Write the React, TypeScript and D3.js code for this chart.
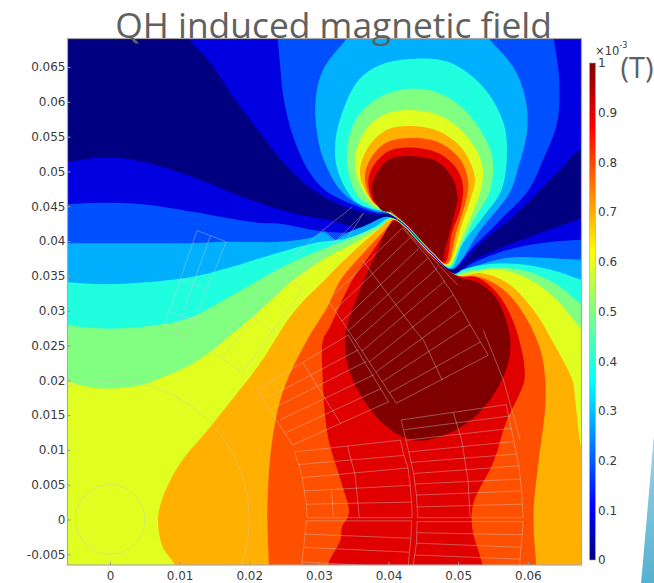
import React, { useEffect, useRef } from "react";
import * as d3 from "d3";

type Pt = [number, number];

// contour outlines, all in mm (x, y)
const bandColors = ["#000080", "#0000e0", "#0050ff", "#00b0ff", "#1fffe0", "#80ff80", "#e0ff20", "#ffb000", "#ff5000", "#e00000", "#800000"];

// band above the pole line: from the left tip, over the top, to the right tip
const upperLobes: Pt[][] = [
  [[40.1,43.9],[38.4,43.8],[34.1,44.8],[29.2,47.3],[25.4,50.7],[21.6,55.5],[17.7,60.7],[14.4,65.6],[11.2,69.2],[8.6,73.2],[71.9,73.2],[71.9,55],[67.8,53.4],[64.2,49.8],[60.4,45.9],[57.9,43.5],[53.2,39.7],[49.1,35.9]],
  [[40,43.9],[38.4,44],[34.9,45.2],[30.9,47.3],[28.7,49.8],[26.3,55],[24.9,60.7],[24.4,65.6],[24.1,69.2],[24,73.2],[63.2,73.2],[63.7,69.2],[64.5,63.2],[64.2,57],[62.2,51.7],[60.1,47.3],[56,43],[51.7,38.7],[49.1,35.9]],
  [[40,44],[38.5,44.2],[35.6,45.3],[33.1,47.3],[31,50.9],[29.9,54.5],[29.5,59.9],[30.6,64.6],[34.1,69.2],[37.4,73.2],[51,73.2],[54.3,69.2],[57.9,65],[59.6,60.7],[59.9,56],[58.6,50.5],[57.4,47],[53.2,41.6],[49,36]],
  [[40,44],[37.7,44.6],[35.5,45.5],[33.8,47.6],[32.6,50.5],[32.3,53.1],[32.8,56.7],[35.5,62.9],[38.8,65.3],[43.8,66.2],[48.9,65.6],[53.6,62.1],[56.5,57],[57,52.7],[56.2,47.3],[53.6,43.5],[50.7,39.7],[48.9,36.1]],
  [[40.1,44],[37.6,44.9],[35.5,46.6],[34.2,50.2],[34.1,53.8],[35.5,57.8],[38.8,60.7],[43.8,61.9],[48.4,60.7],[52.2,57.4],[54.6,53.1],[55,51],[54.6,47.3],[52.2,43],[50,38.7],[48.7,36.3]],
  [[40.2,44.1],[37.9,45.2],[35.6,48.8],[35.2,52.1],[36.4,55.5],[39.2,58.1],[43.8,58.8],[47.9,57.8],[51.7,54.5],[53.5,50.7],[53.3,47.5],[52.2,44.4],[50.7,40.9],[48.6,36.4]],
  [[40.2,44.1],[38,45.3],[36.4,47.8],[35.9,50.2],[37.1,53.5],[39.8,56],[43.8,56.5],[47.4,55.7],[50.7,53.1],[52.4,49],[51.9,46.5],[50.4,42],[48.4,36.6]],
  [[40.3,44.1],[37.8,45.6],[36.6,49.2],[37.6,52.1],[39.8,54.2],[43.8,54.8],[47.4,54.1],[50.3,51.7],[51.4,48.8],[51.2,46.2],[49.8,41.6],[48.3,36.7]],
  [[40.4,44.1],[37.9,45.6],[37.1,48.8],[38.1,51.2],[40.2,53],[43.8,53.4],[47.4,52.5],[49.9,50.2],[50.7,47.8],[50.3,44.5],[49.1,41.2],[48.1,36.9]],
  [[40.5,44.1],[39.2,44.3],[38.1,45.6],[37.6,47.8],[38.4,49.9],[40.2,51.8],[43.8,52.2],[47,51.4],[49.3,48.8],[49.9,45.9],[49.6,44.5],[48.6,40.6],[48,38.3],[47.9,37.1]],
];

// band below the pole line, left part: bottom up to the left tip
const lowerLeft: Pt[][] = [
  [[-10.1,-11.6],[-10.1,51.4],[-6.2,51.4],[-1,52],[4.7,51.4],[11.9,49.2],[19.1,46.3],[26.3,44],[31.6,43],[35.9,41.9],[38.8,42.7],[40,43.5]],
  [[-10.1,-11.6],[-10.1,45],[-6.2,45.3],[-1,45.5],[4.7,45.3],[11.9,44.2],[16.8,43.3],[21.6,42.6],[24.4,42.5],[29.2,41.6],[31.6,41.3],[34.5,41.3],[37.4,42.6],[39.8,43.5]],
  [[-10.1,-11.6],[-10.1,39.7],[-6.2,39.7],[0,39.7],[11.5,39.7],[16.8,39.9],[24.4,39.9],[29.2,40.6],[30.6,41.3],[32.3,40.2],[34.1,41.2],[36.9,42.3],[39.8,43.5]],
  [[-10.1,-11.6],[-10.1,34.3],[-6.2,34.1],[0,33.8],[11.5,34.8],[16.8,36.1],[24.4,38.4],[29.2,39.7],[34.1,40.4],[37.8,41.9],[40.2,43.3]],
  [[-10.1,-11.6],[-10.1,28.4],[-6.2,27.9],[0,27.4],[7.2,28],[11.5,29],[16.8,31.8],[24.4,36.1],[29.2,38.3],[34.1,40.2],[38.8,42.3],[40.4,43.3]],
  [[-10.1,-11.6],[-10.1,21.2],[-6.2,19.9],[-2.9,19],[0,18.8],[4.3,19.3],[7.2,20.3],[11.5,22.2],[14.4,24.1],[21.6,30.1],[26.3,34.4],[31.2,37.7],[34.1,39.2],[38.8,42],[40.4,43.2]],
  [[11.5,-11.6],[9.3,-6.5],[7.6,-4],[6.9,-0.1],[7.6,3.2],[10.1,8.1],[14.4,13.3],[17.5,17.2],[21.6,22.5],[26.3,29.7],[31.2,34.8],[34.1,37.7],[38.8,41.9],[40.5,43.2]],
  [[22.8,-11.6],[22.8,-6.5],[22.6,1.8],[23.3,11.4],[24.9,18.6],[28.3,25.8],[31.2,30.5],[33.1,34.4],[36.4,38.3],[39.8,42],[40.6,43]],
  [[30.9,-11.6],[31.3,-6.5],[33.1,-2.9],[33.3,-1.1],[34.3,0.9],[33.1,5.7],[31.3,11.9],[30.5,21.1],[30.6,25.8],[31.6,27.7],[34.8,34.4],[37.8,38.7],[40.2,42.3],[40.7,43]],
  [[43.5,11.4],[39.8,13.3],[36.4,17.2],[34.2,21.9],[33.8,26.5],[35.9,33],[37.8,37.3],[40.7,42.8]],
];

// same band, right part: from the right tip out to the edge and down
const lowerRight: Pt[][] = [
  [[49.3,35.4],[51.7,37],[56,39],[61.8,41.2],[67.8,43.3],[73.3,45.3],[73.3,-11.6]],
  [[49.3,35.4],[52.2,36.9],[57,38.7],[61.8,39.7],[67.8,40.2],[73.3,40.3],[73.3,-11.6]],
  [[49.3,35.3],[52.2,36.3],[57,37.6],[61.8,37.6],[67.8,37.3],[73.3,37],[73.3,-11.6]],
  [[49.3,35.2],[50.7,35.9],[53.6,36.6],[58.5,36.7],[63.2,35.9],[67.8,34.4],[73.3,32.7],[73.3,-11.6]],
  [[49.4,35.1],[50.7,35.6],[54.2,36.1],[58.9,35.9],[63.7,34],[67.8,30.8],[73.3,26.5],[73.3,-11.6]],
  [[49.6,35.1],[51.3,35.4],[56,35.9],[60.4,34.4],[64.2,31.5],[67.8,27.2],[73.3,21.5],[73.3,-11.6]],
  [[49.7,35.1],[53.2,35.4],[57,34],[60.8,30.1],[64.2,24.4],[66.4,20],[66.8,17.2],[67.4,11.9],[67.7,10.4],[71.9,4.2],[71.9,-11.6]],
  [[49.7,35],[53.2,34.8],[56.5,33],[59.3,29.7],[61.8,24.4],[62.5,20],[62.5,16.2],[61.5,8.1],[60.8,0.9],[61.2,-6.5],[61.8,-11.6]],
  [[49.9,35],[52.7,34.8],[55.6,32.5],[57.8,28.7],[59.3,23.4],[59.5,20],[58.6,17.6],[57,14.3],[55,8.1],[52.2,2.4],[52,-1.1],[53.5,-6.5],[54.6,-11.6]],
  [[50,34.8],[52.7,34.1],[55.3,32],[57,28.2],[57.5,25.4],[57,21.9],[54.6,17.2],[51.3,13.9],[47.4,11.9]],
];

// thin low-field slit between the two lobes
const slitLine: Pt[] = [[42.2,42.4],[44.1,40.4],[46.4,38]];

// winding outlines (grey lines over the field)
const coilLines: Pt[][] = [
  // lower right, above midplane
  [[44.2,0.26],[59.3,0.26]],[[44.1,1.8],[59.2,2.2]],[[44,3.5],[59.1,4.1]],[[43.8,5.1],[58.9,5.8]],[[43.6,6.6],[58.7,7.7]],
  [[43.2,8.2],[58.4,9.4]],[[42.9,9.7],[58,11.2]],[[42.6,11.4],[57.7,13.1]],[[42.3,12.9],[57.6,14.9]],[[41.8,14.3],[56.9,16.5]],
  [[56.9,16.5],[58,11.2],[58.7,7.7],[59.1,4.1],[59.3,0.26]],
  [[41.8,14.3],[42.9,9.7],[43.6,6.6],[44,3.5],[44.2,0.26]],
  [[49.3,15.35],[50.5,11.4],[51.4,5.7],[51.7,0.4]],
  // lower right, below midplane
  [[44.1,-0.3],[59.3,-0.3]],[[44.1,-1.9],[59.2,-2.2]],[[44,-3.4],[59,-4]],[[43.7,-5.1],[58.9,-5.7]],
  [[59.3,-0.3],[59.2,-2.2],[59,-4],[58.8,-6.8]],
  [[44.1,-0.3],[44,-3.4],[43.5,-6.8]],
  // lower left, above midplane
  [[26.5,9.7],[41.7,11.4]],[[27.1,7.9],[42.2,9.2]],[[27.6,6],[42.8,7.4]],[[27.9,4.1],[43.1,4.9]],[[28.2,2.2],[43.3,2.5]],[[28.3,0.26],[43.4,0.26]],
  [[26.5,9.7],[27.1,7.9],[27.6,6],[27.9,4.1],[28.2,2.2],[28.3,0.26]],
  [[41.7,11.4],[42.2,9.2],[42.8,7.4],[43.1,4.9],[43.3,2.5],[43.4,0.26]],
  [[34.1,10.5],[35.2,6.4],[35.8,0.26]],
  [[31.8,4.2],[32.1,0.26]],
  // lower left, below midplane
  [[28.2,-0.2],[43.3,-0.2]],[[28,-2.1],[43.2,-2.7]],[[27.8,-4],[43,-4.7]],[[27.5,-6.1],[36.9,-6.6]],
  [[43.3,-0.2],[43.2,-2.7],[43,-4.7],[42.8,-6.8]],
  [[28.2,-0.2],[28,-2.1],[27.8,-4],[27.5,-6.8]],
  // tilted block
  [[26.2,10.7],[40,16.9]],[[25.3,12.5],[38.9,18.8]],[[24.4,14.3],[37.9,20.8]],[[23.5,16],[36.8,22.7]],[[22.5,17.4],[35.7,24.4]],[[21.1,18.6],[34.2,26.5]],
  [[26.2,10.7],[21.1,18.6]],[[40,16.9],[34.2,26.5]],[[27.7,22.5],[33.1,13.8]],
  // main block under the pole
  [[41.1,16.7],[36.2,24.2],[31.3,31.5]],
  [[31.3,31.5],[42,41.9]],[[32.3,30.1],[43.1,40.5]],[[33.3,28.5],[44.4,39]],[[34.2,27.1],[45.7,37.6]],[[35.2,25.7],[47,36.1]],
  [[36.2,24.2],[48.1,34.3]],[[37.2,22.6],[49.3,32.3]],[[38.2,21.2],[50.4,30.1]],[[39.1,19.8],[51.7,28]],[[40.1,18.2],[53.2,25.5]],[[41.1,16.7],[54.3,23.6]],
  [[42,41.9],[45.7,37.6],[49.3,32.3],[51.7,28],[54.3,23.6]],
  [[36.2,37.3],[39.8,32.5],[43.8,27.2],[45,25.8],[47.7,20]],
  [[40.2,44.5],[42.7,41.3],[49.9,33.7]],
  [[53.6,27.2],[56.5,20],[58.9,11.4]],
  // upper left blocks
  [[14.7,24.1],[19,21.1],[27.7,33],[23.7,36.1],[14.7,24.1]],
  [[19.1,30.1],[23.7,26.8]],[[16.1,23.4],[25.6,35.1]],
  [[7.6,27.2],[11.1,26.1],[16.7,39.9],[12.5,41.5],[7.6,27.2]],
  [[14.4,40.7],[9.3,26.5]],[[10.2,34.4],[13.7,33.1]],[[8.6,29.8],[12.2,28.7]],
  [[24.9,36.4],[30.6,41.6],[33.3,39.2],[36.4,44]],[[30.6,41.6],[34.8,44.9]],[[26.9,34.4],[36.4,44]],
];
const boreRadii = [5, 20];

const xTicks = [0, 0.01, 0.02, 0.03, 0.04, 0.05, 0.06];
const yTicks = [-0.005, 0, 0.005, 0.01, 0.015, 0.02, 0.025, 0.03, 0.035, 0.04, 0.045, 0.05, 0.055, 0.06, 0.065];
const barTicks = [0, 0.1, 0.2, 0.3, 0.4, 0.5, 0.6, 0.7, 0.8, 0.9, 1];
const jetStops: [number, string][] = [[0, "#00007f"], [0.11, "#0000ff"], [0.36, "#00ffff"], [0.5, "#80ff80"], [0.62, "#ffff00"], [0.87, "#ff0000"], [1, "#7f0000"]];
const cornerShape: Pt[] = [[656, 412], [641, 584], [656, 584]];

const plot = { left: 67.5, right: 581.5, top: 38.5, bottom: 565 };
const bar = { left: 589.5, width: 6, top: 63, bottom: 560 };
const mm = 0.001;

export default function App() {
  const xAxisRef = useRef<SVGGElement>(null);
  const yAxisRef = useRef<SVGGElement>(null);
  const barAxisRef = useRef<SVGGElement>(null);

  const x = d3.scaleLinear().domain([-0.0061, 0.0677]).range([plot.left, plot.right]);
  const y = d3.scaleLinear().domain([-0.00654, 0.0691]).range([plot.bottom, plot.top]);
  const barY = d3.scaleLinear().domain([0, 1]).range([bar.bottom, bar.top]);

  const smooth = d3
    .line<Pt>()
    .x((d) => x(d[0] * mm))
    .y((d) => y(d[1] * mm))
    .curve(d3.curveCatmullRomClosed.alpha(0.5));
  const straight = d3
    .line<Pt>()
    .x((d) => x(d[0] * mm))
    .y((d) => y(d[1] * mm))
    .curve(d3.curveLinear);

  // the slit gets wider for higher levels, so the rainbow shows along it
  const shifted = (k: number, sign: number): Pt[] =>
    slitLine.map((p) => [p[0] + sign * 0.018 * (k + 1), p[1] + sign * 0.018 * (k + 1)] as Pt);

  useEffect(() => {
    const style = (g: any) => {
      g.select(".domain").remove();
      g.selectAll("line").attr("stroke", "#999");
      g.selectAll("text").attr("fill", "#3a3a3a").style("font-family", "DejaVu Sans").style("font-size", "12px");
    };
    d3.select(xAxisRef.current)
      .call(d3.axisBottom(x).tickValues(xTicks).tickSize(-3).tickPadding(6.5).tickFormat((d) => String(d)) as any)
      .call(style);
    d3.select(yAxisRef.current)
      .call(d3.axisLeft(y).tickValues(yTicks).tickSize(-3).tickPadding(2).tickFormat((d) => String(d)) as any)
      .call(style);
    d3.select(barAxisRef.current)
      .call(d3.axisRight(barY).tickValues(barTicks).tickSize(0).tickPadding(2.5).tickFormat((d) => String(d)) as any)
      .call(style);
  }, []);

  return (
    <svg width={654} height={583} style={{ position: "absolute", left: 0, top: 0, display: "block" }}>
      <defs>
        <clipPath id="plotClip">
          <rect x={plot.left} y={plot.top} width={plot.right - plot.left} height={plot.bottom - plot.top} />
        </clipPath>
        <linearGradient id="jet" x1="0" y1="1" x2="0" y2="0">
          {jetStops.map(([o, c]) => (
            <stop key={o} offset={o} stopColor={c} />
          ))}
        </linearGradient>
        <linearGradient id="corner" x1="0" y1="0" x2="0" y2="1">
          <stop offset="0" stopColor="#a9dbe9" />
          <stop offset="1" stopColor="#54b0cf" />
        </linearGradient>
      </defs>
      <rect width={654} height={583} fill="#ffffff" />
      <path d={"M" + cornerShape.join("L") + "Z"} fill="url(#corner)" />

      <g clipPath="url(#plotClip)">
        <rect x={plot.left} y={plot.top} width={plot.right - plot.left} height={plot.bottom - plot.top} fill={bandColors[0]} />
        {upperLobes.map((lobe, k) => (
          <g key={k} fill={bandColors[k + 1]}>
            <path d={smooth([...lobe, ...shifted(k, 1).reverse()]) || ""} />
            <path d={smooth([...lowerLeft[k], ...shifted(k, -1), ...lowerRight[k]]) || ""} />
          </g>
        ))}
        <g fill="none" stroke="#c8c8c8" strokeOpacity={0.42} strokeWidth={1}>
          {coilLines.map((l, i) => (
            <path key={i} d={straight(l) || ""} />
          ))}
          {boreRadii.map((r) => (
            <circle key={r} cx={x(0)} cy={y(0)} r={x(r * mm) - x(0)} />
          ))}
        </g>
      </g>
      <rect x={plot.left} y={plot.top} width={plot.right - plot.left} height={plot.bottom - plot.top} fill="none" stroke="#aaaaaa" strokeWidth={1.2} />
      <g ref={xAxisRef} transform={`translate(0,${plot.bottom})`} />
      <g ref={yAxisRef} transform={`translate(${plot.left},0)`} />

      <rect x={bar.left} y={bar.top} width={bar.width} height={bar.bottom - bar.top} fill="url(#jet)" stroke="#aaaaaa" strokeWidth={0.6} />
      <g ref={barAxisRef} transform={`translate(${bar.left + bar.width},0)`} />
      <text x={595} y={55} fontFamily="DejaVu Sans" fontSize={11.5} fill="#3a3a3a">
        ×10
        <tspan fontSize={8} dy={-7}>-3</tspan>
      </text>

      <text x={620.5} y={78} fontFamily="Open Sans" fontSize={29} fill="#606060">(T)</text>
      <text x={333.5} y={38} textAnchor="middle" fontFamily="Open Sans" fontSize={35.4} fill="#606060">QH induced magnetic field</text>
    </svg>
  );
}
